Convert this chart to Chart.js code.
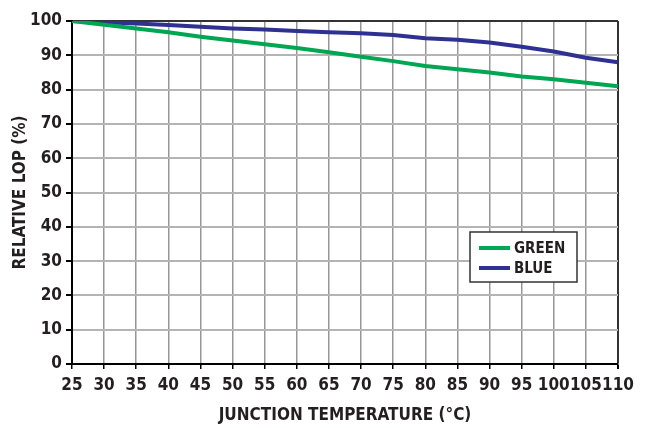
<!DOCTYPE html>
<html>
<head>
<meta charset="utf-8">
<title>Relative LOP vs Junction Temperature</title>
<script src="https://cdn.jsdelivr.net/npm/chart.js"></script>
<style>
  html, body { margin: 0; padding: 0; background: #fff; }
  canvas { display: block; }
</style>
</head>
<body>
<canvas id="lopChart" width="652" height="428"></canvas>
<script>
// junction temperature (°C) and relative LOP (%) per colour
const temps = [25, 30, 35, 40, 45, 50, 55, 60, 65, 70, 75, 80, 85, 90, 95, 100, 105, 110];
const green = [100, 98.9, 97.8, 96.7, 95.4, 94.3, 93.2, 92.1, 90.9, 89.6, 88.3, 86.9, 85.9, 85.0, 83.8, 83.0, 82.0, 81.0];
const blue = [100, 99.6, 99.3, 98.8, 98.3, 97.8, 97.5, 97.1, 96.7, 96.4, 95.9, 95.0, 94.5, 93.7, 92.5, 91.1, 89.3, 88.0];
const seriesNames = ['GREEN', 'BLUE'];

const FONT = "'DejaVu Sans Condensed', 'Liberation Sans', sans-serif";
const GREEN = '#00A651';
const BLUE = '#2E3192';

// boxed legend sitting inside the plot, lower right
const boxLegend = {
  id: 'boxLegend',
  afterDraw(chart) {
    const ctx = chart.ctx;
    const area = chart.chartArea;
    const x0 = area.right - 148;
    const y0 = area.top + 211;
    ctx.save();
    ctx.fillStyle = '#fff';
    ctx.fillRect(x0, y0, 107, 50);
    ctx.strokeStyle = '#333';
    ctx.lineWidth = 1.5;
    ctx.strokeRect(x0, y0, 107, 50);
    ctx.font = 'bold 15px ' + FONT;
    ctx.textBaseline = 'middle';
    chart.data.datasets.forEach((ds, i) => {
      const y = y0 + 16 + i * 20;
      ctx.strokeStyle = ds.borderColor;
      ctx.lineWidth = 4;
      ctx.beginPath();
      ctx.moveTo(x0 + 9, y);
      ctx.lineTo(x0 + 40, y);
      ctx.stroke();
      ctx.fillStyle = '#231f20';
      ctx.fillText(ds.label, x0 + 44, y + 1);
    });
    ctx.restore();
  }
};

const ctx = document.getElementById('lopChart').getContext('2d');
new Chart(ctx, {
  type: 'line',
  data: {
    labels: temps,
    datasets: [
      {
        label: seriesNames[0],
        data: green,
        borderColor: GREEN,
        borderWidth: 4,
        pointRadius: 0,
        fill: false,
        tension: 0
      },
      {
        label: seriesNames[1],
        data: blue,
        borderColor: BLUE,
        borderWidth: 4,
        pointRadius: 0,
        fill: false,
        tension: 0
      }
    ]
  },
  options: {
    responsive: false,
    animation: false,
    layout: { padding: { top: 21, right: 34, left: 0, bottom: 0 } },
    plugins: {
      legend: { display: false },
      tooltip: { enabled: false }
    },
    scales: {
      x: {
        type: 'category',
        offset: false,
        afterFit: scale => { scale.height = 64; },
        border: { color: '#000', width: 2 },
        grid: {
          color: c => c.index === temps.length - 1 ? '#333' : '#969696',
          lineWidth: c => c.index === temps.length - 1 ? 2 : 1.5,
          tickColor: '#000',
          tickLength: 5
        },
        ticks: {
          autoSkip: false,
          maxRotation: 0,
          padding: 6,
          color: '#231f20',
          font: { family: FONT, size: 17, weight: 'bold' }
        },
        title: {
          display: true,
          text: 'JUNCTION TEMPERATURE (°C)',
          color: '#231f20',
          padding: { top: 0, bottom: 2 },
          font: { family: FONT, size: 17, weight: 'bold' }
        }
      },
      y: {
        min: 0,
        max: 100,
        afterFit: scale => { scale.width = 72; },
        border: { color: '#000', width: 2 },
        grid: {
          color: c => c.tick.value === 100 ? '#333' : '#b4b4b4',
          lineWidth: 2,
          tickColor: '#000',
          tickLength: 6
        },
        ticks: {
          stepSize: 10,
          padding: 4,
          color: '#231f20',
          font: { family: FONT, size: 17, weight: 'bold' }
        },
        title: {
          display: true,
          text: 'RELATIVE LOP (%)',
          color: '#231f20',
          padding: { top: 10, bottom: 0 },
          font: { family: FONT, size: 17, weight: 'bold' }
        }
      }
    }
  },
  plugins: [boxLegend]
});
</script>
</body>
</html>
